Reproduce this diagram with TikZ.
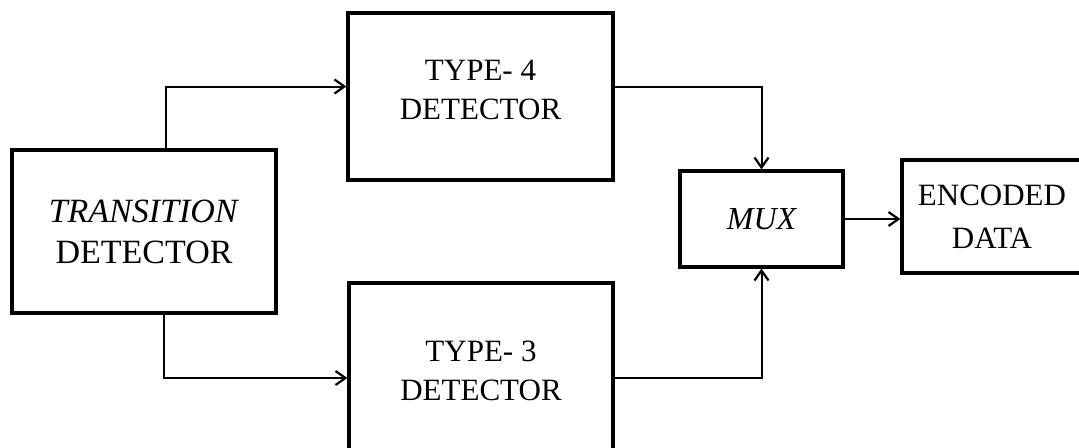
\documentclass[tikz,border=0pt]{standalone}
\usepackage{fontspec}
\setmainfont{Liberation Serif}
\usepackage{tikz}
\usetikzlibrary{arrows.meta}

\tikzset{
  block/.style={draw, line width=1.6pt, align=center, inner sep=0pt,
                font=\fontsize{15.5}{19.5}\selectfont},
  link/.style={line width=1pt, -{Straight Barb[length=5pt, width=7pt, line width=1.1pt]}},
}

\begin{document}
\begin{tikzpicture}[x=0.5pt, y=-0.5pt]

% canvas: 1079 x 447 units, y grows downwards
\useasboundingbox (0,0) rectangle (1079,447);
\clip (0,0) rectangle (1079,447);

%% ── blocks ───────────────────────────────────────────────────────
\node[block, minimum width=132pt, minimum height=81.5pt,
      font=\fontsize{17}{20.5}\selectfont] (trans) at (144,231.5)
  {\textit{TRANSITION}\\DETECTOR};
\node[block, minimum width=132.5pt, minimum height=83.5pt] (type4) at (480.5,96.5)
  {\raisebox{2.3pt}[\height][\depth]{\begin{tabular}{@{}c@{}}TYPE- 4\\DETECTOR\end{tabular}}};
\node[block, minimum width=132pt, minimum height=88pt] (type3) at (481,371)
  {TYPE- 3\\DETECTOR};
\node[block, minimum width=81.5pt, minimum height=48pt,
      font=\fontsize{16}{20}\selectfont\itshape] (mux) at (761.5,219) {MUX};
\node[block, minimum width=90pt, minimum height=56.5pt,
      font=\fontsize{15.5}{21.5}\selectfont] (enc) at (992,216.5)
  {ENCODED\\DATA};

%% ── connectors ───────────────────────────────────────────────────
\draw[link] ([xshift=11pt]trans.north) |- ([yshift=5pt]type4.west);
\draw[link] ([xshift=10pt]trans.south) |- ([yshift=-3.5pt]type3.west);
\draw[link] ([yshift=5pt]type4.east) -| (mux.north);
\draw[link] ([yshift=-3.5pt]type3.east) -| (mux.south);
\draw[link] (mux.east) -- (mux.east -| enc.west);

\end{tikzpicture}
\end{document}
